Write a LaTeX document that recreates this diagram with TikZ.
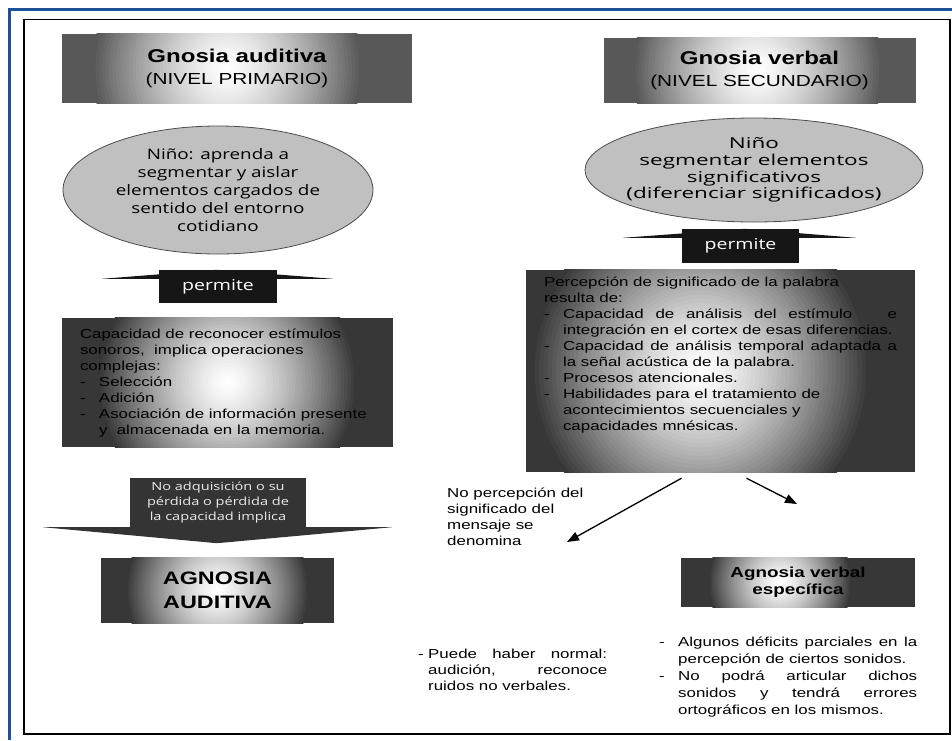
\documentclass[tikz,border=0pt]{standalone}
\usepackage{fontspec}
\setmainfont{Liberation Sans}[FakeStretch=1.3]
\newfontfamily\ovalfont{Open Sans}[FakeStretch=1.3]
\newfontfamily\ovalwide{Open Sans}[FakeStretch=1.5]
\usetikzlibrary{arrows.meta, positioning, calc, shapes.geometric}

\definecolor{framecol}{RGB}{30,80,150}
\definecolor{titlegray}{RGB}{88,88,88}
\definecolor{boxgray}{RGB}{55,55,55}
\definecolor{ovalgray}{RGB}{192,192,192}
\definecolor{arrowblack}{RGB}{22,22,22}
\definecolor{implgray}{RGB}{52,52,52}

\newcommand{\itm}[1][19pt]{\makebox[#1][l]{-}}
\newcommand{\jline}[2]{\makebox[#1][s]{#2}}
% light spot inside a box: node, radius, x offset, colour
\newcommand{\spotfill}[4]{%
  \begin{scope}
    \clip (#1.south west) rectangle (#1.north east);
    \foreach \k in {40,39,...,1}{
      \pgfmathsetmacro\pct{100*(\k/40)^1.4}
      \fill[#4!\pct!white] ([xshift=#3pt]#1.center) circle [radius={#2*\k/40*1pt}];
    }
  \end{scope}}

\tikzset{
  box/.style={rectangle, inner sep=0pt},
  label/.style={inner sep=0pt, align=center},
  oval/.style={ellipse, draw=black!70, line width=0.8pt, fill=ovalgray, inner sep=-20pt, align=center},
  shaft/.style={rectangle, inner sep=0pt, fill=arrowblack, text=white, font=\ovalfont\fontsize{15}{18}\selectfont},
  txt/.style={anchor=north west, inner sep=0pt, align=left, font=\fontsize{13}{16}\selectfont},
  link/.style={-{Triangle[length=12pt,width=9pt]}, line width=1.3pt},
}

\begin{document}
\begin{tikzpicture}[x=1pt, y=-1pt]
  \useasboundingbox (0,0) rectangle (952,740);

  % Draw the frame
  \draw[framecol, line width=3pt] (9.5,740) -- (9.5,9.5) -- (952,9.5);
  \draw[line width=1.3pt] (24,19.5) rectangle (950,734);

  % Title boxes
  \node[box, fill=titlegray, minimum width=350pt, minimum height=69pt] (gaud) at (237,68.5) {};
  \spotfill{gaud}{135}{-10}{titlegray}
  \node[label, font=\bfseries\fontsize{18.5}{22}\selectfont] (gaudtxt) at (gaud)
        {Gnosia auditiva\\{\mdseries\fontsize{16}{22}\selectfont(NIVEL PRIMARIO)}};
  \node[box, fill=titlegray, minimum width=312pt, minimum height=65pt] (gverb) at (759.5,70.5) {};
  \spotfill{gverb}{125}{-2}{titlegray}
  \node[label, font=\bfseries\fontsize{18.5}{22}\selectfont] (gverbtxt) at (gverb)
        {Gnosia verbal\\{\mdseries\fontsize{16}{22}\selectfont(NIVEL SECUNDARIO)}};

  % Ovals
  \node[oval, minimum width=310pt, minimum height=128pt,
        font=\ovalfont\fontsize{14.5}{18}\selectfont] (nino1) at (218,190)
        {Niño: aprenda a\\segmentar y aislar\\elementos cargados de\\sentido del entorno\\cotidiano};
  \node[oval, minimum width=338pt, minimum height=104pt,
        font=\ovalwide\fontsize{15}{16.7}\selectfont] (nino2) at (754,170)
        {Niño\\segmentar elementos\\significativos\\(diferenciar significados)};

  % Block arrows "permite"
  \node[shaft, minimum width=118pt, minimum height=33pt] (perm1) at (218,286.5) {permite};
  \fill[arrowblack] ($(perm1.north)+(-116,9)$) -- ($(perm1.north)+(-1,0)$) -- ($(perm1.north)+(115,9)$) -- cycle;
  \node[shaft, minimum width=117pt, minimum height=34pt] (perm2) at (740.5,246) {permite};
  \fill[arrowblack] ($(perm2.north)+(-117.5,9)$) -- ($(perm2.north)+(4.5,0)$) -- ($(perm2.north)+(115.5,9)$) -- cycle;

  % Left text box
  \node[box, fill=boxgray, minimum width=331pt, minimum height=129pt] (capac) at (227.5,382.5) {};
  \spotfill{capac}{130}{0}{boxgray}
  \node[txt] (capactxt) at ($(capac.north west)+(18,10.5)$)
        {Capacidad de reconocer estímulos\\
         sonoros,~ implica operaciones\\
         complejas:\\
         \itm Selección\\
         \itm Adición\\
         \itm Asociación de información presente\\
         \hspace*{19pt}y~ almacenada en la memoria.};

  % Right text box
  \node[box, fill=boxgray, minimum width=389pt, minimum height=202pt] (perc) at (720.5,371) {};
  \spotfill{perc}{170}{-20}{boxgray}
  \node[txt] (perctxt) at ($(perc.north west)+(18,6.5)$)
        {Percepción de significado de la palabra\\
         resulta de:\\
         \itm\jline{334pt}{Capacidad de análisis del estímulo ~ e}\\
         \hspace*{19pt}integración en el cortex de esas diferencias.\\
         \itm\jline{334pt}{Capacidad de análisis temporal adaptada a}\\
         \hspace*{19pt}la señal acústica de la palabra.\\
         \itm Procesos atencionales.\\
         \itm Habilidades para el tratamiento de\\
         \hspace*{19pt}acontecimientos secuenciales y\\
         \hspace*{19pt}capacidades mnésicas.};

  % Block arrow "implica"
  \node[box, fill=implgray, text=white!92!black, minimum width=176pt, minimum height=49pt,
        align=center, font=\ovalfont\fontsize{11.2}{15}\selectfont] (impl) at (218,502.5)
        {No adquisición o su\\pérdida o pérdida de\\la capacidad implica};
  \fill[implgray] ($(impl.south)+(-175,0)$) -- ($(impl.south)+(174,0)$) -- ($(impl.south)+(-1,16)$) -- cycle;

  % Agnosia boxes
  \node[box, fill=boxgray, minimum width=233pt, minimum height=65pt] (agaud) at (217.5,590.5) {};
  \spotfill{agaud}{92}{0}{boxgray}
  \node[label, font=\bfseries\fontsize{18}{24}\selectfont] (agaudtxt) at (agaud) {AGNOSIA\\AUDITIVA};
  \node[box, fill=boxgray, minimum width=234pt, minimum height=49pt] (agverb) at (798,582.5) {};
  \spotfill{agverb}{72}{-18}{boxgray}
  \node[label, font=\bfseries\fontsize{14.5}{17}\selectfont] (agverbtxt) at (agverb) {Agnosia verbal\\específica};

  % Free texts
  \node[txt] (nopercep) at (447,487.5) {No percepción del\\significado del\\mensaje se\\denomina};
  \node[txt] (normal) at (418,648.5)
        {\itm[10pt]\jline{179pt}{Puede haber normal:}\\
         \hspace*{10pt}\jline{179pt}{audición, reconoce}\\
         \hspace*{10pt}ruidos no verbales.};
  \node[txt, font=\fontsize{13}{17}\selectfont] (parcial) at (659,637)
        {\itm\jline{239pt}{Algunos déficits parciales en la}\\
         \hspace*{19pt}percepción de ciertos sonidos.\\
         \itm\jline{239pt}{No podrá articular dichos}\\
         \hspace*{19pt}\jline{239pt}{sonidos y tendrá errores}\\
         \hspace*{19pt}ortográficos en los mismos.};

  % Arrows out of the right box
  \coordinate (fork1) at ($(perc.south)+(-39,6)$);
  \coordinate (fork2) at ($(perc.south)+(26,6)$);
  \coordinate (toname) at (567,542);
  \coordinate (toverb) at (797,504);
  \draw[link] (fork1) -- (toname);
  \draw[link] (fork2) -- (toverb);
\end{tikzpicture}
\end{document}
